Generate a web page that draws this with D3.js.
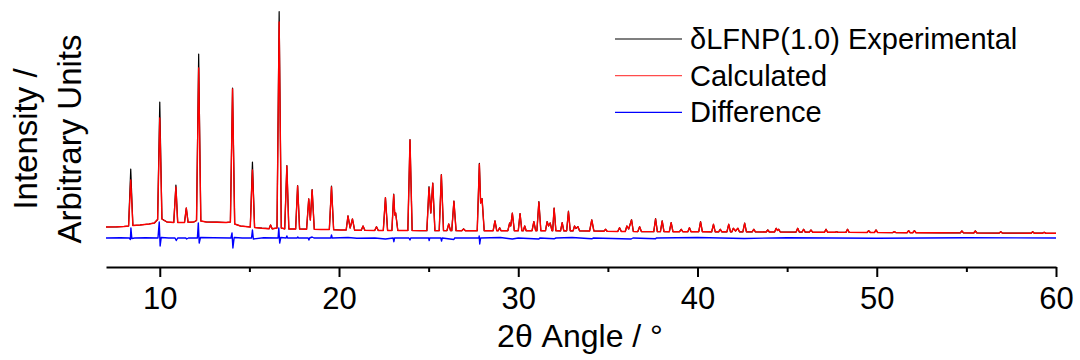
<!DOCTYPE html>
<html>
<head>
<meta charset="utf-8">
<script src="https://cdn.jsdelivr.net/npm/d3@7"></script>
<style>
  body { margin: 0; background: #fff; }
  svg { display: block; }
  text { font-family: "Liberation Sans", Arial, sans-serif; fill: #000; }
</style>
</head>
<body>
<svg id="chart" width="1080" height="360"></svg>
<script>
// 2theta grid shared by the experimental and calculated traces
const twoTheta = [
  7.0, 7.6, 8.0, 8.26, 8.38, 8.5, 8.9, 9.4, 9.7, 9.88, 10.0, 10.12, 10.4,
  10.78, 10.9, 11.0, 11.38, 11.48, 11.58, 11.9, 12.05, 12.17, 12.29, 12.6, 13.2, 13.7,
  13.94, 14.06, 14.18, 14.5, 15.05, 15.17, 15.29, 15.7, 16.1, 16.18, 16.27, 16.54, 16.66, 16.78, 16.97, 17.09, 17.2, 17.58, 17.69, 17.8,
  18.19, 18.31, 18.4, 18.5, 18.62, 19.0, 19.46, 19.58, 19.7, 20.1, 20.4, 20.5, 20.62, 20.75, 20.87, 21.24, 21.34, 21.44, 21.99, 22.09, 22.19,
  22.47, 22.59, 22.71, 22.95, 23.05, 23.11, 23.16, 23.28, 23.84, 23.96, 24.08, 24.5, 24.9, 25.02, 25.12, 25.23, 25.35, 25.59, 25.71, 25.83, 26.02, 26.12, 26.22, 26.29, 26.41, 26.53,
  26.85, 26.95, 27.05, 27.71, 27.83, 27.9, 27.98, 28.1, 28.6, 28.7, 28.8, 28.88, 28.96, 29.04, 29.42, 29.52, 29.58, 29.67, 29.78, 30.0, 30.1, 30.2, 30.28, 30.36, 30.44,
  30.77, 30.87, 30.97, 31.04, 31.15, 31.26, 31.52, 31.61, 31.69, 31.78, 31.88, 31.92, 32.0, 32.1, 32.36, 32.45, 32.54, 32.7, 32.8, 32.9, 33.06, 33.14, 33.22, 33.33, 33.42, 33.98, 34.1, 34.22,
  34.78, 34.87, 34.96, 35.55, 35.65, 35.75, 35.97, 36.06, 36.16, 36.32, 36.42, 36.67, 36.77, 36.87, 37.56, 37.66, 37.76, 37.93, 38.03, 38.13, 38.43, 38.53, 38.63, 39.0, 39.09, 39.18, 39.46, 39.55, 39.64,
  40.07, 40.17, 40.27, 40.79, 40.89, 40.99, 41.18, 41.27, 41.36, 41.64, 41.74, 41.84, 41.92, 42.0, 42.12, 42.25, 42.34, 42.53, 42.63, 42.73, 43.05, 43.14, 43.23, 43.83, 43.92, 44.01, 44.3, 44.39, 44.46, 44.53, 44.62,
  45.5, 45.59, 45.68, 45.83, 45.92, 46.01, 46.24, 46.33, 46.42, 47.08, 47.17, 47.26, 47.67, 47.76, 47.85, 48.28, 48.37, 48.46, 49.46, 49.55, 49.64, 49.87, 49.96, 50.05,
  50.89, 50.98, 51.07, 51.69, 51.78, 51.86, 52.01, 52.1, 52.19, 53.5, 54.66, 54.75, 54.84, 55.41, 55.5, 55.59, 56.83, 56.92, 57.01, 58.61, 58.7, 58.79, 59.25, 59.34, 59.43, 60.0
];

const calculated = [
  110, 112, 115, 120, 580, 125, 130, 140, 150, 185, 1200, 190, 160,
  155, 510, 155, 155, 300, 157, 160, 175, 1700, 170, 160, 158, 155,
  160, 1490, 140, 120, 110, 680, 105, 98, 93, 130, 92, 100, 2160, 100, 92, 720, 90, 90, 520, 90,
  88, 390, 180, 480, 87, 85, 85, 510, 83, 80, 80, 220, 100, 190, 78, 77, 120, 77, 75, 113, 75,
  75, 403, 75, 75, 433, 230, 250, 75, 75, 980, 75, 74, 74, 503, 250, 547, 74, 74, 630, 74, 74, 140, 74, 74, 367, 74,
  73, 90, 73, 73, 737, 350, 393, 73, 73, 170, 73, 73, 103, 73, 73, 150, 120, 247, 73, 73, 243, 73, 73, 120, 73,
  73, 163, 73, 73, 357, 73, 73, 163, 120, 150, 73, 73, 297, 73, 72, 153, 72, 72, 263, 72, 72, 120, 95, 113, 72, 70, 180, 70,
  68, 87, 67, 65, 103, 65, 65, 120, 90, 180, 65, 64, 113, 64, 64, 190, 64, 64, 170, 64, 63, 153, 63, 63, 87, 63, 63, 103, 63,
  63, 160, 63, 62, 137, 62, 62, 87, 62, 62, 137, 62, 62, 97, 70, 97, 62, 61, 147, 61, 61, 87, 61, 60, 80, 60, 60, 97, 75, 87, 60,
  59, 97, 59, 59, 87, 59, 58, 80, 58, 57, 87, 57, 57, 63, 56, 56, 87, 56, 55, 73, 55, 55, 80, 55,
  54, 63, 54, 53, 73, 53, 53, 73, 53, 52, 51, 70, 51, 50, 70, 50, 49, 63, 49, 48, 63, 48, 48, 57, 47, 47
];

const experimental = [
  110, 112, 115, 120, 690, 125, 130, 140, 150, 185, 1360, 190, 160,
  155, 530, 155, 155, 300, 157, 160, 175, 1840, 170, 160, 158, 155,
  160, 1500, 140, 120, 110, 760, 105, 98, 93, 130, 92, 100, 2263, 100, 92, 725, 90, 90, 525, 90,
  88, 392, 180, 485, 87, 85, 85, 520, 83, 80, 80, 222, 100, 190, 78, 77, 120, 77, 75, 113, 75,
  75, 405, 75, 75, 440, 230, 250, 75, 75, 985, 75, 74, 74, 513, 250, 550, 74, 74, 635, 74, 74, 140, 74, 74, 370, 74,
  73, 92, 73, 73, 747, 350, 395, 73, 73, 172, 73, 73, 103, 73, 73, 150, 120, 250, 73, 73, 245, 73, 73, 120, 73,
  73, 165, 73, 73, 365, 73, 73, 165, 120, 150, 73, 73, 300, 73, 72, 155, 72, 72, 268, 72, 72, 120, 95, 113, 72, 70, 182, 70,
  68, 87, 67, 65, 103, 65, 65, 120, 90, 183, 65, 64, 113, 64, 64, 193, 64, 64, 172, 64, 63, 153, 63, 63, 87, 63, 63, 103, 63,
  63, 163, 63, 62, 137, 62, 62, 87, 62, 62, 137, 62, 62, 97, 70, 97, 62, 61, 150, 61, 61, 87, 61, 60, 80, 60, 60, 97, 75, 87, 60,
  59, 97, 59, 59, 87, 59, 58, 80, 58, 57, 87, 57, 57, 63, 56, 56, 87, 56, 55, 73, 55, 55, 80, 55,
  54, 63, 54, 53, 73, 53, 53, 73, 53, 52, 51, 70, 51, 50, 70, 50, 49, 63, 49, 48, 63, 48, 48, 57, 47, 47
];

// difference trace has its own grid
const diffTheta = [
  7.0, 7.8, 8.3, 8.36, 8.39, 8.44, 8.6, 9.2, 9.9, 9.97, 10.02, 10.08, 10.5,
  10.85, 10.92, 11.0, 11.45, 11.5, 11.6, 12.1, 12.15, 12.2, 12.27, 13.0,
  13.97, 14.03, 14.08, 14.15, 14.6, 15.12, 15.17, 15.22, 15.8,
  16.6, 16.64, 16.69, 16.75, 17.05, 17.09, 17.13, 17.66, 17.7, 17.75,
  18.28, 18.32, 18.36, 18.5, 18.6, 19.54, 19.58, 19.62, 20.5, 21.0, 22.0, 22.59,
  23.02, 23.06, 23.1, 23.9, 23.96, 24.0, 25.0, 25.03, 25.06, 25.68, 25.72, 25.76,
  26.41, 26.45, 27.8, 27.82, 27.85, 27.9, 29.0, 29.67, 30.0, 31.15, 31.2,
  32.0, 32.1, 33.0, 34.1, 34.2, 36.3, 36.4, 37.66, 37.7, 40.0, 42.6, 45.0, 50.0, 55.0, 60.0
];

const difference = [
  0, 3, 0, -15, 100, -5, 0, 3, 0, 160, -80, 5, 0,
  0, -25, 0, 0, -10, 0, 0, 150, -50, 5, 3,
  0, 50, -100, 5, 0, 0, 80, -10, 3,
  0, 100, -50, 5, 0, 20, 0, 0, 10, 0,
  0, -20, 0, 10, 0, 0, 30, 0, 5, -3, 0, -10,
  0, -37, 0, 0, -20, 0, 0, -25, 0, 0, -30, 0,
  -15, 0, 0, 20, -60, 0, 5, -10, 0, -10, 0,
  -8, 0, 5, -8, 0, -10, 0, -8, 0, 5, -5, 3, -3, 3, 0
];

const xMajorTicks = [10, 20, 30, 40, 50, 60];
const xMinorTicks = [15, 25, 35, 45, 55];
const legendLabels = ["\u03B4LFNP(1.0) Experimental", "Calculated", "Difference"];
const seriesColors = ["#000000", "#ff0000", "#0000ff"];

const svg = d3.select("#chart");

const x = d3.scaleLinear().domain([7, 60]).range([106, 1056]);
const y = d3.scaleLinear().domain([0, 2380]).range([238, 0]);

const line = d3.line()
  .x(d => x(d[0]))
  .y(d => y(d[1]));

const traces = [
  d3.zip(twoTheta, experimental),
  d3.zip(twoTheta, calculated),
  d3.zip(diffTheta, difference)
];

svg.append("g")
  .selectAll("path")
  .data(traces)
  .join("path")
  .attr("fill", "none")
  .attr("stroke", (d, i) => seriesColors[i])
  .attr("stroke-width", (d, i) => i === 0 ? 1.2 : 1.4)
  .attr("stroke-linejoin", "round")
  .attr("d", line);

// x axis: labelled majors plus short minor ticks
const axisY = 267;
const minor = svg.append("g")
  .attr("transform", `translate(0,${axisY})`)
  .call(d3.axisBottom(x).tickValues(xMinorTicks).tickSize(5).tickSizeOuter(0).tickFormat(""));
minor.select(".domain").remove();

const major = svg.append("g")
  .attr("transform", `translate(0,${axisY})`)
  .call(d3.axisBottom(x).tickValues(xMajorTicks).tickSize(10).tickSizeOuter(0).tickPadding(10));

svg.selectAll(".domain").attr("stroke", "#000").attr("stroke-width", 2);
svg.selectAll(".tick line").attr("stroke", "#000").attr("stroke-width", 2);
major.selectAll(".tick text")
  .attr("font-size", 31)
  .attr("font-family", "'Liberation Sans', Arial, sans-serif");

svg.append("text")
  .attr("x", 580)
  .attr("y", 347)
  .attr("text-anchor", "middle")
  .attr("font-size", 32)
  .text("2\u03B8 Angle / \u00B0");

const yTitle = svg.append("text")
  .attr("transform", "rotate(-90)")
  .attr("text-anchor", "middle")
  .attr("font-size", 33);
yTitle.append("tspan").attr("x", -139).attr("y", 37).text("Intensity /");
yTitle.append("tspan").attr("x", -139).attr("y", 81).text("Arbitrary Units");

// legend
const legend = svg.append("g")
  .selectAll("g")
  .data(legendLabels)
  .join("g")
  .attr("transform", (d, i) => `translate(615,${39 + i * 36.7})`);

legend.append("line")
  .attr("x1", 0).attr("x2", 67)
  .attr("stroke", (d, i) => seriesColors[i])
  .attr("stroke-opacity", (d, i) => i === 1 ? 0.7 : 1)
  .attr("stroke-width", 1.2);

legend.append("text")
  .attr("x", 75)
  .attr("y", 10)
  .attr("font-size", 29)
  .text(d => d);
</script>
</body>
</html>
